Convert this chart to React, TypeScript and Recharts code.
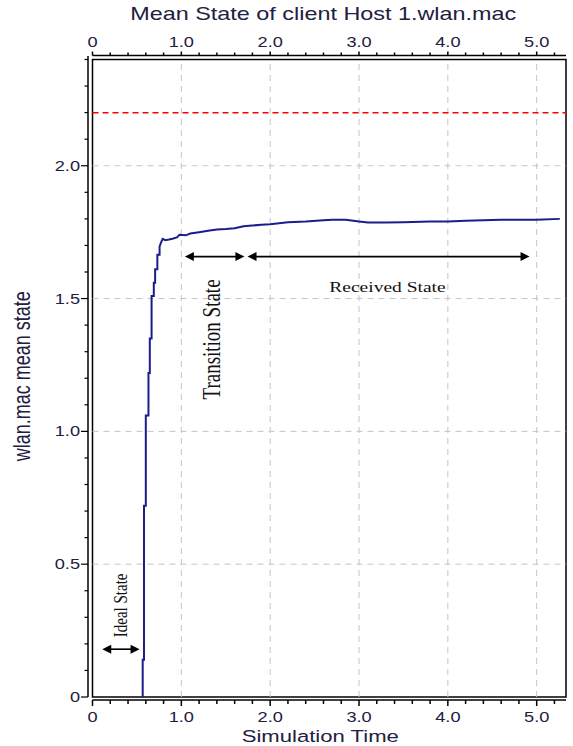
import React from 'react';
import {
  ComposedChart, Line, XAxis, YAxis, ReferenceLine, ReferenceArea, ReferenceDot
} from 'recharts';

// curve (simulation time, mean state)
const simTime = [
  0.565, 0.565, 0.58, 0.58, 0.60, 0.60, 0.63, 0.63, 0.645, 0.645, 0.665, 0.665,
  0.69, 0.69, 0.705, 0.705, 0.73, 0.73, 0.755, 0.755, 0.77, 0.79, 0.82, 0.86,
  0.9, 0.95, 0.98, 1.05, 1.1, 1.2, 1.3, 1.4, 1.5, 1.6, 1.7, 1.8, 1.9, 2.0,
  2.2, 2.4, 2.6, 2.7, 2.85, 3.0, 3.1, 3.3, 3.5, 3.8, 4.0, 4.2, 4.4, 4.6,
  4.8, 5.0, 5.26,
];
const meanState = [
  0, 0.14, 0.14, 0.72, 0.72, 1.06, 1.06, 1.22, 1.22, 1.35, 1.35, 1.51,
  1.51, 1.56, 1.56, 1.61, 1.61, 1.665, 1.665, 1.695, 1.71, 1.725, 1.72, 1.722,
  1.725, 1.73, 1.74, 1.738, 1.745, 1.75, 1.755, 1.76, 1.762, 1.765, 1.772, 1.775, 1.778, 1.78,
  1.787, 1.79, 1.795, 1.797, 1.797, 1.79, 1.786, 1.786, 1.787, 1.79, 1.79, 1.793, 1.795, 1.797,
  1.797, 1.797, 1.8,
];

const xTicks = [0, 0.2, 0.4, 0.6, 0.8, 1, 1.2, 1.4, 1.6, 1.8, 2, 2.2, 2.4, 2.6, 2.8, 3,
  3.2, 3.4, 3.6, 3.8, 4, 4.2, 4.4, 4.6, 4.8, 5, 5.2];
const yTicks = [0, 0.1, 0.2, 0.3, 0.4, 0.5, 0.6, 0.7, 0.8, 0.9, 1, 1.1, 1.2, 1.3, 1.4, 1.5,
  1.6, 1.7, 1.8, 1.9, 2, 2.1, 2.2, 2.3, 2.4];
const xGrid = [1, 2, 3, 4, 5];
const yGrid = [0.5, 1, 1.5, 2];
const targetLevel = 2.2;

// annotation arrows [xStart, xEnd, y]
const arrows = [
  [0.11, 0.53, 0.18],
  [1.04, 1.71, 1.658],
  [1.745, 4.92, 1.658],
];
// annotation texts [label, x, y, rotated]
const notes: [string, number, number, boolean][] = [
  ['Ideal State', 0.385, 0.345, true],
  ['Transition State', 1.44, 1.346, true],
  ['Received State', 3.32, 1.523, false],
];

const data = simTime.map((t, i) => ({ t, v: meanState[i] }));

const SANS = '"Liberation Sans", Arial, sans-serif';
const SERIF = '"Liberation Serif", "Times New Roman", serif';
const INK = '#22203f';
const SX = 1.3; // the picture is stretched sideways

function SText({ x, y, size, anchor = 'middle', rotate = 0, family = SANS, fill = INK, children }: any) {
  return (
    <text
      transform={`translate(${x},${y}) scale(${SX},1)${rotate ? ` rotate(${rotate})` : ''}`}
      textAnchor={anchor} fontSize={size} fontFamily={family} fill={fill}
    >{children}</text>
  );
}

const isMajorX = (v: number) => Math.abs(v - Math.round(v)) < 1e-6;
const isMajorY = (v: number) => Math.abs(v * 2 - Math.round(v * 2)) < 1e-6;
const fmt = (v: number) => (v === 0 ? '0' : v.toFixed(1));

function BottomTick({ x, y, payload }: any) {
  const major = isMajorX(payload.value);
  return (
    <g>
      <line x1={x} y1={y + 3} x2={x} y2={y + 3 + (major ? 6 : 4)} stroke="#000" strokeWidth={1.5} />
      {major && <SText x={x} y={y + 25} size={14}>{fmt(payload.value)}</SText>}
    </g>
  );
}

function TopTick({ x, y, payload }: any) {
  const major = isMajorX(payload.value);
  return (
    <g>
      <line x1={x} y1={y - 4} x2={x} y2={y - 4 - (major ? 4 : 3)} stroke="#000" strokeWidth={1.5} />
      {major && <SText x={x} y={y - 13} size={14}>{fmt(payload.value)}</SText>}
    </g>
  );
}

function LeftTick({ x, y, payload }: any) {
  const major = isMajorY(payload.value);
  return (
    <g>
      <line x1={x - 4.5} y1={y} x2={x - 4.5 - (major ? 7 : 3.5)} y2={y} stroke="#000" strokeWidth={1.2} />
      {major && <SText x={x - 12.5} y={y + 5} size={14} anchor="end">{fmt(payload.value)}</SText>}
    </g>
  );
}

function DoubleArrow({ x1, y1, x2 }: any) {
  const a = Math.min(x1, x2);
  const b = Math.max(x1, x2);
  const h = 9;
  const w = 4.5;
  return (
    <g>
      <line x1={a + h - 1} y1={y1} x2={b - h + 1} y2={y1} stroke="#000" strokeWidth={1.6} />
      <polygon points={`${a},${y1} ${a + h},${y1 - w} ${a + h},${y1 + w}`} fill="#000" />
      <polygon points={`${b},${y1} ${b - h},${y1 - w} ${b - h},${y1 + w}`} fill="#000" />
    </g>
  );
}

const vEdge = (dx: number) => (p: any) => (
  <line x1={p.x1 + dx} y1={Math.min(p.y1, p.y2) - 3.5} x2={p.x2 + dx} y2={Math.max(p.y1, p.y2)}
    stroke="#000" strokeWidth={1.5} />
);
const hEdge = (dy: number) => (p: any) => (
  <line x1={Math.min(p.x1, p.x2)} y1={p.y1 + dy} x2={Math.max(p.x1, p.x2)} y2={p.y2 + dy}
    stroke="#000" strokeWidth={1.5} />
);

export default function App() {
  return (
    <div style={{ position: 'absolute', left: 0, top: 0 }}>
      <ComposedChart width={573} height={746} data={data}
        margin={{ top: 58.5, right: 7, bottom: 48, left: 91.5 }}>
        <XAxis dataKey="t" type="number" domain={[0, 5.33]} allowDataOverflow
          ticks={xTicks} interval={0} height={1} tickSize={0} tickMargin={0}
          axisLine={false} tickLine={false} tick={<BottomTick />}
          label={{
            content: ({ viewBox }: any) => (
              <SText x={viewBox.x + viewBox.width / 2 - 9} y={viewBox.y + 45} size={17}>Simulation Time</SText>
            ),
          }}
        />
        <XAxis xAxisId="top" dataKey="t" orientation="top" type="number" domain={[0, 5.33]} allowDataOverflow
          ticks={xTicks} interval={0} height={1} tickSize={0} tickMargin={0}
          axisLine={false} tickLine={false} tick={<TopTick />}
          label={{
            content: ({ viewBox }: any) => (
              <SText x={viewBox.x + viewBox.width / 2 - 6} y={viewBox.y - 39} size={18}>
                Mean State of client Host 1.wlan.mac
              </SText>
            ),
          }}
        />
        <YAxis type="number" domain={[0, 2.4]} allowDataOverflow
          ticks={yTicks} interval={0} width={1} tickSize={0} tickMargin={0}
          axisLine={false} tickLine={false} tick={<LeftTick />}
          label={{
            content: ({ viewBox }: any) => (
              <SText x={viewBox.x - 62} y={viewBox.y + viewBox.height / 2 - 2} size={18} rotate={-90}>
                wlan.mac mean state
              </SText>
            ),
          }}
        />

        {xGrid.map((v) => (
          <ReferenceLine key={`gx${v}`} x={v} stroke="#c4c4c4" strokeDasharray="6 5" />
        ))}
        {yGrid.map((v) => (
          <ReferenceLine key={`gy${v}`} y={v} stroke="#c4c4c4" strokeDasharray="6 5" />
        ))}
        <ReferenceLine y={targetLevel} stroke="#ff0000" strokeWidth={1.5} strokeDasharray="6 4" />

        <Line dataKey="v" type="linear" stroke="#1c1c8a" strokeWidth={2} dot={false}
          isAnimationActive={false} />

        {arrows.map(([a, b, y], i) => (
          <ReferenceLine key={`ar${i}`} segment={[{ x: a, y }, { x: b, y }]}
            shape={(p: any) => <DoubleArrow {...p} />} />
        ))}
        {notes.map(([text, x, y, rot]) => (
          <ReferenceDot key={text} x={x} y={y} r={0} fill="none" stroke="none"
            label={({ viewBox }: any) => (
              <SText x={viewBox.x} y={viewBox.y} rotate={rot ? -90 : 0} family={SERIF}
                size={rot ? (text.length > 12 ? 19 : 15) : 15} fill="#111">{text}</SText>
            )}
          />
        ))}

        <ReferenceArea x1={0} x2={5.33} y1={0} y2={2.4} fill="none" stroke="#000" strokeWidth={1.5}
          ifOverflow="visible" />
        <ReferenceLine x={0} ifOverflow="visible" shape={vEdge(-4.5)} />
        <ReferenceLine y={0} ifOverflow="visible" shape={hEdge(3)} />
        <ReferenceLine y={2.4} ifOverflow="visible" shape={hEdge(-4)} />
      </ComposedChart>
    </div>
  );
}
